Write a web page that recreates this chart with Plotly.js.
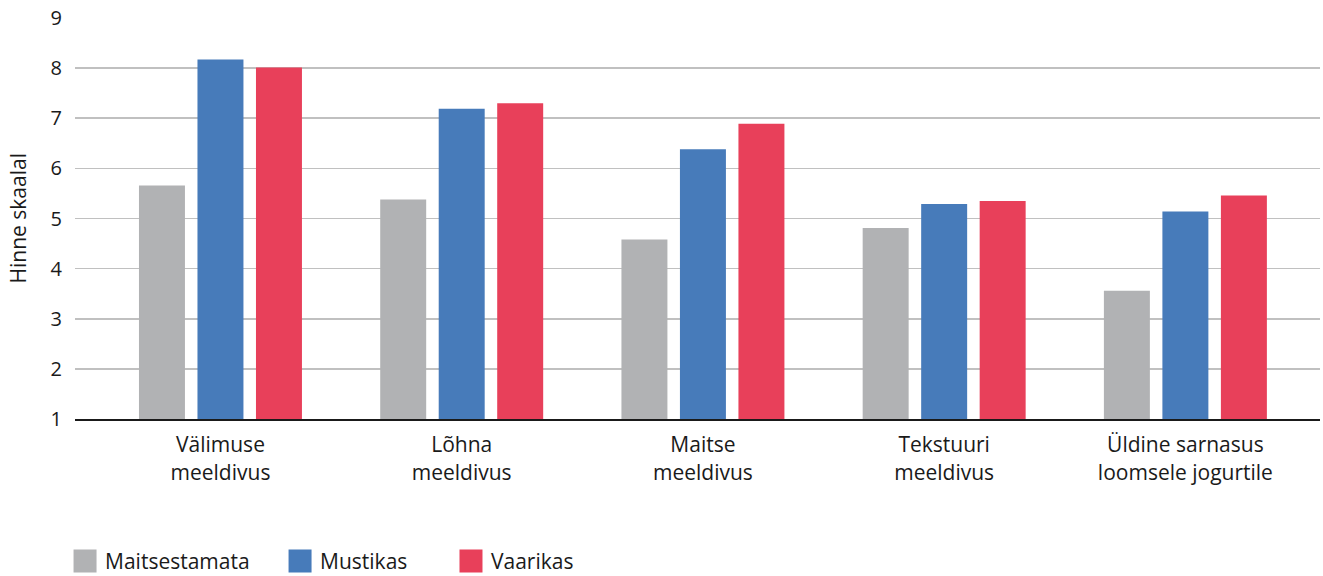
<!DOCTYPE html>
<html>
<head>
<meta charset="utf-8">
<script src="https://cdn.plot.ly/plotly-3.0.1.min.js"></script>
<style>
  html, body { margin: 0; padding: 0; background: #ffffff; }
  #chart { width: 1323px; height: 576px; }
</style>
</head>
<body>
<div id="chart"></div>
<script>
// Hinnangud jogurtitele (skaalal 1–9)
const categories = [
  'Välimuse<br>meeldivus',
  'Lõhna<br>meeldivus',
  'Maitse<br>meeldivus',
  'Tekstuuri<br>meeldivus',
  'Üldine sarnasus<br>loomsele jogurtile'
];
const seriesNames = ['Maitsestamata', 'Mustikas', 'Vaarikas'];
const maitsestamata = [5.66, 5.38, 4.58, 4.81, 3.56];
const mustikas = [8.17, 7.19, 6.38, 5.29, 5.14];
const vaarikas = [8.01, 7.30, 6.89, 5.35, 5.46];
const yTicks = [1, 2, 3, 4, 5, 6, 7, 8, 9];

const colors = ['#b1b2b4', '#477bba', '#e8405a'];
const FONT = '"Open Sans", "Noto Sans", sans-serif';
const TEXT = '#1a1a1a';

const values = [maitsestamata, mustikas, vaarikas];
const legendIds = ['legend', 'legend2', 'legend3'];

const data = values.map((v, i) => ({
  type: 'bar',
  name: seriesNames[i],
  x: categories,
  y: v,
  marker: { color: colors[i], line: { width: 0 } },
  legend: legendIds[i],
  hoverinfo: 'x+y+name'
}));

function legendBox(x) {
  return {
    orientation: 'h',
    x: x,
    xanchor: 'left',
    y: -0.355,
    yanchor: 'middle',
    bgcolor: 'rgba(0,0,0,0)',
    borderwidth: 0,
    font: { family: FONT, size: 21, color: TEXT }
  };
}

const layout = {
  width: 1323,
  height: 576,
  margin: { l: 75, r: 3, t: 18, b: 157, autoexpand: false },
  paper_bgcolor: '#ffffff',
  plot_bgcolor: '#ffffff',
  font: { family: FONT, size: 21, color: TEXT },
  barmode: 'group',
  bargap: 0.2725,
  bargroupgap: 0.214,
  xaxis: {
    type: 'category',
    range: [-0.603, 4.558],
    showgrid: false,
    zeroline: false,
    showline: true,
    linecolor: '#1a1a1a',
    linewidth: 2,
    ticks: '',
    ticklabelstandoff: 6,
    tickfont: { family: FONT, size: 21, color: TEXT },
    automargin: false,
    fixedrange: true
  },
  yaxis: {
    range: [1, 9],
    tickvals: yTicks,
    ticktext: yTicks.map(String),
    showgrid: true,
    gridcolor: '#c0c0c0',
    gridwidth: 1.6,
    zeroline: false,
    showline: false,
    ticks: '',
    ticklabelstandoff: 12,
    tickfont: { family: FONT, size: 20, color: TEXT },
    automargin: false,
    fixedrange: true
  },
  annotations: [{
    text: 'Hinne skaalal',
    xref: 'paper', yref: 'paper',
    x: -0.0458, y: 0.5,
    xanchor: 'center', yanchor: 'middle',
    textangle: -90,
    showarrow: false,
    font: { family: FONT, size: 21, color: TEXT }
  }],
  legend: legendBox(-0.008),
  legend2: legendBox(0.1647),
  legend3: legendBox(0.302),
  showlegend: true
};

const gd = document.getElementById('chart');
Plotly.newPlot(gd, data, layout, { displayModeBar: false, responsive: false, staticPlot: true })
  .then(() => {
    // larger square swatches in the legends
    gd.querySelectorAll('.legendpoints path').forEach(p => {
      p.setAttribute('d', 'M11.5,11.5H-11.5V-11.5H11.5Z');
    });
  });
</script>
</body>
</html>
